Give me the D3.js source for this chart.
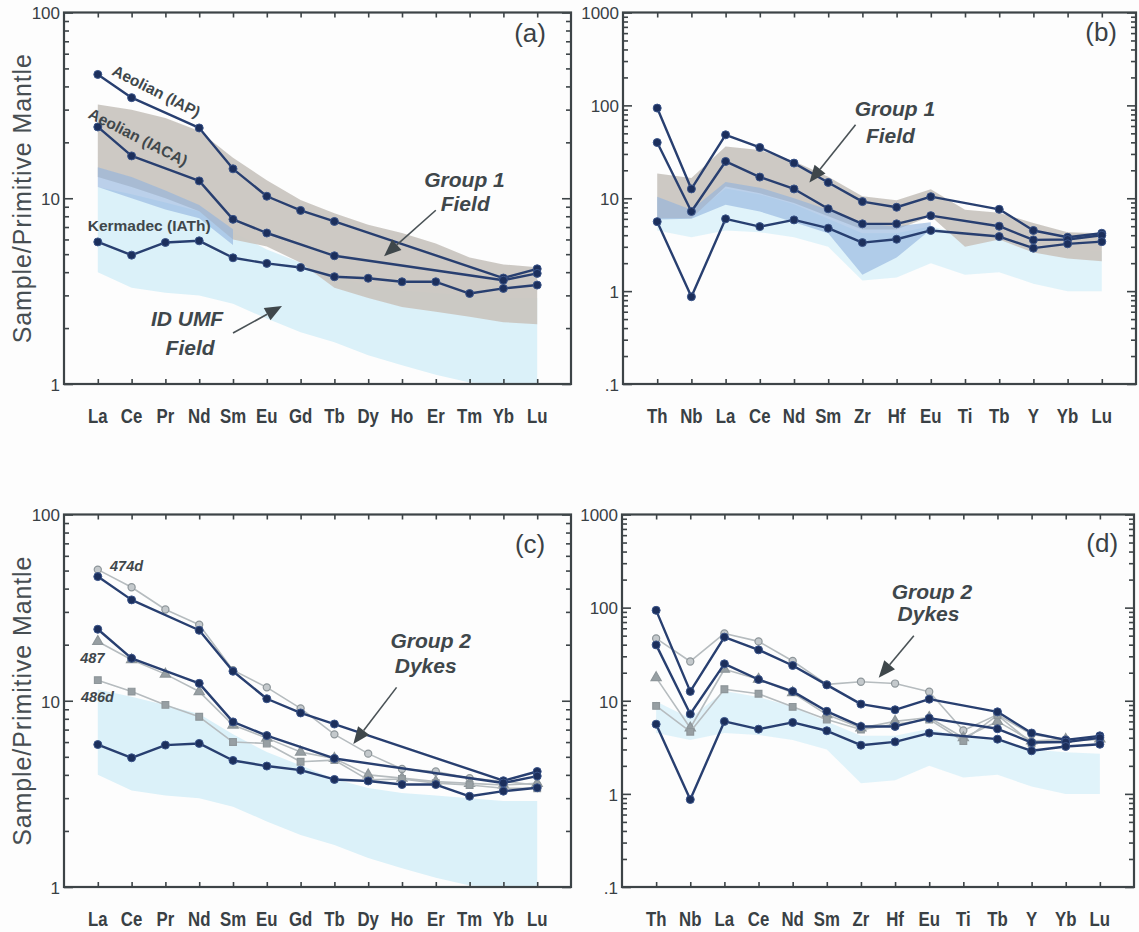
<!DOCTYPE html>
<html>
<head>
<meta charset="utf-8">
<script src="https://cdn.jsdelivr.net/npm/d3@7"></script>
<style>
  body { margin: 0; background: #fdfdfd; }
  svg { display: block; font-family: Arial, "Liberation Sans", sans-serif; }
</style>
</head>
<body>
<svg id="chart" width="1139" height="932"></svg>
<script>
// element order on the x axis
var reeLabels = ["La", "Ce", "Pr", "Nd", "Sm", "Eu", "Gd", "Tb", "Dy", "Ho", "Er", "Tm", "Yb", "Lu"];
var spiderLabels = ["Th", "Nb", "La", "Ce", "Nd", "Sm", "Zr", "Hf", "Eu", "Ti", "Tb", "Y", "Yb", "Lu"];

// reference arcs, REE (panels a, c); null = element not plotted
var reeIAP  = [46.4, 34.8, null, 23.9, 14.4, 10.25, 8.6, 7.5, null, null, null, null, 3.72, 4.17];
var reeIACA = [24.2, 16.9, null, 12.4, 7.7, 6.5, null, 4.9, null, null, null, null, 3.62, 3.94];
var reeIATh = [5.82, 4.94, 5.78, 5.9, 4.78, 4.46, 4.24, 3.78, 3.71, 3.55, 3.55, 3.07, 3.27, 3.41];

// Group 2 dykes, REE (panel c)
var ree474d = [50.6, 40.7, 30.9, 25.6, 14.6, 11.8, 9.1, 6.6, 5.2, 4.3, 4.17, 3.84, 3.68, 3.53];
var ree487  = [20.8, 16.6, 13.9, 11.2, 7.4, 6.3, 5.3, 4.9, 4.0, 3.84, 3.68, 3.6, 3.53, 3.6];
var ree486d = [12.9, 11.2, 9.5, 8.2, 6.0, 5.9, 4.7, 4.8, 3.76, 3.8, 3.61, 3.53, 3.39, 3.39];

// reference arcs, multi-element (panels b, d)
var spIAP  = [93.5, 12.6, 48.2, 35.2, 23.9, 14.8, 9.2, 8.0, 10.4, null, 7.6, 4.5, 3.8, 4.2];
var spIACA = [39.8, 7.2, 24.9, 16.9, 12.6, 7.7, 5.3, 5.3, 6.5, null, 5.0, 3.56, 3.6, 4.0];
var spIATh = [5.6, 0.87, 6.0, 4.95, 5.85, 4.76, 3.33, 3.62, 4.5, null, 3.87, 2.9, 3.23, 3.41];

// Group 2 dykes, multi-element (panel d)
var sp474d = [46.7, 26.4, 52.8, 43.4, 26.7, 15.0, 16.0, 15.3, 12.5, 4.8, 7.1, 4.35, 3.85, 3.95];
var sp487  = [17.7, 5.1, 21.8, 17.0, 12.2, 7.1, 5.1, 6.0, 6.6, 4.0, 6.0, 3.7, 3.85, 3.9];
var sp486d = [8.8, 4.65, 13.3, 11.9, 8.6, 6.3, 4.9, 5.6, 6.3, 3.7, 7.0, 3.5, 3.7, 3.85];

// fields (upper / lower envelopes)
var reeGroup1Upper = [32, 30, 27, 23, 16.5, 12.5, 9.8, 8.3, 7.2, 6.5, 5.7, 4.8, 4.4, 4.25];
var reeGroup1Lower = [13, 11.5, 10, 8.5, 6.0, 5.5, 4.5, 3.3, 2.9, 2.6, 2.45, 2.3, 2.15, 2.1];
var reeUmfUpper = [11.5, 10.5, 9.5, 8.5, 6.6, 5.3, 4.5, 3.8, 3.4, 3.2, 3.1, 3.0, 2.9, 2.9];
var reeUmfLower = [4.0, 3.3, 3.1, 3.0, 2.7, 2.25, 1.9, 1.68, 1.43, 1.26, 1.12, 1.02, 1.0, 1.0];
var reeUmfDarkUpper = [14.7, 13, 11, 9.2, 6.8, null, null, null, null, null, null, null, null, null];
var reeUmfDarkLower = [11.5, 10, 8.7, 7.8, 5.6, null, null, null, null, null, null, null, null, null];

var spGroup1Upper = [18.5, 16.5, 36, 33, 25, 17, 10.5, 9.5, 12.5, 7.5, 7.0, 5.4, 4.3, 4.2];
var spGroup1Lower = [6.1, 6.1, 13.4, 11.3, 8.9, 6.4, 4.6, 4.6, 6.4, 3.0, 3.6, 2.6, 2.25, 2.1];
var spUmfUpper = [9.8, 6.5, 12.7, 11, 8.6, 6.0, 4.2, 4.2, 5.0, 4.0, 3.8, 3.0, 2.8, 2.7];
var spUmfLower = [4.5, 3.8, 4.5, 4.3, 3.8, 3.0, 1.3, 1.4, 2.0, 1.5, 1.6, 1.2, 1.0, 1.0];
var spUmfDarkUpper = [10.4, 7.5, 15, 13, 10, 7.5, 5.3, 5.0, 5.5, null, null, null, null, null];
var spUmfDarkLower = [5.9, 6.0, 8.5, 7.2, 5.5, 4.2, 1.5, 2.3, 4.6, null, null, null, null, null];

var reeTickLabels = ["1", "10", "100"];
var spTickLabels = [".1", "1", "10", "100", "1000"];

var colors = {
  frame: "#3d4447", text: "#394044", dark: "#283f70", darkFill: "#1c2f5c",
  gray: "#b6bcbf", grayMark: "#8e969a",
  group1: "#cac6c1", umf: "#dbf1f9", umfDark: "#8fb3de"
};

var svg = d3.select("#chart");
svg.append("rect").attr("width", 1139).attr("height", 932).attr("fill", "#fdfdfd");

var darkRef = function(a, b, c) {
  return [{ values: a, dark: true }, { values: b, dark: true }, { values: c, dark: true }];
};

var panels = [
  { id: "a", left: 64, right: 571, top: 12.5, bottom: 384, labels: reeLabels, domain: [1, 100],
    tickLabels: reeTickLabels, ylabel: true,
    fields: [
      { upper: reeUmfUpper, lower: reeUmfLower, color: colors.umf, opacity: 1 },
      { upper: reeGroup1Upper, lower: reeGroup1Lower, color: colors.group1, opacity: 0.95 },
      { upper: reeUmfDarkUpper, lower: reeUmfDarkLower, color: colors.umfDark, opacity: 0.6 }
    ],
    series: darkRef(reeIAP, reeIACA, reeIATh),
    notes: [
      { t: "(a)", i: 12.79, v: 69.8, size: 26 },
      { t: "Aeolian (IAP)", i: 1.66, v: 35.5, size: 15.5, bold: true, rot: 27 },
      { t: "Aeolian (IACA)", i: 1.12, v: 20.1, size: 15.5, bold: true, rot: 27 },
      { t: "Kermadec (IATh)", i: 1.52, v: 6.65, size: 15.5, bold: true },
      { t: "Group 1", i: 10.85, v: 11.46, size: 21, bold: true, italic: true },
      { t: "Field", i: 10.87, v: 8.51, size: 21, bold: true, italic: true },
      { t: "ID UMF", i: 2.64, v: 2.05, size: 21, bold: true, italic: true },
      { t: "Field", i: 2.73, v: 1.43, size: 21, bold: true, italic: true }
    ],
    arrows: [
      { from: [10.0, 8.62], to: [8.47, 4.88] },
      { from: [4.0, 1.88], to: [5.45, 2.63] }
    ] },
  { id: "b", left: 623, right: 1136, top: 12.5, bottom: 384, labels: spiderLabels, domain: [0.1, 1000],
    tickLabels: spTickLabels, ylabel: false,
    fields: [
      { upper: spUmfUpper, lower: spUmfLower, color: colors.umf, opacity: 0.85 },
      { upper: spGroup1Upper, lower: spGroup1Lower, color: colors.group1, opacity: 0.95 },
      { upper: spUmfDarkUpper, lower: spUmfDarkLower, color: colors.umfDark, opacity: 0.6 }
    ],
    series: darkRef(spIAP, spIACA, spIATh),
    notes: [
      { t: "(b)", i: 12.98, v: 497, size: 26 },
      { t: "Group 1", i: 6.95, v: 77.3, size: 21, bold: true, italic: true },
      { t: "Field", i: 6.82, v: 39.5, size: 21, bold: true, italic: true }
    ],
    arrows: [{ from: [5.80, 61.8], to: [4.45, 14.8] }] },
  { id: "c", left: 64, right: 571, top: 514.5, bottom: 887, labels: reeLabels, domain: [1, 100],
    tickLabels: reeTickLabels, ylabel: true,
    fields: [{ upper: reeUmfUpper, lower: reeUmfLower, color: colors.umf, opacity: 1 }],
    series: [
      { values: ree474d, shape: d3.symbolCircle },
      { values: ree487, shape: d3.symbolTriangle },
      { values: ree486d, shape: d3.symbolSquare }
    ].concat(darkRef(reeIAP, reeIACA, reeIATh)),
    notes: [
      { t: "(c)", i: 12.79, v: 62.5, size: 26 },
      { t: "474d", i: 0.85, v: 50, size: 14.5, bold: true, italic: true },
      { t: "487", i: -0.16, v: 16.0, size: 14.5, bold: true, italic: true },
      { t: "486d", i: -0.01, v: 9.9, size: 14.5, bold: true, italic: true },
      { t: "Group 2", i: 9.85, v: 19.3, size: 21, bold: true, italic: true },
      { t: "Dykes", i: 9.70, v: 14.1, size: 21, bold: true, italic: true }
    ],
    arrows: [{ from: [8.84, 11.8], to: [7.56, 5.85] }] },
  { id: "d", left: 622, right: 1134, top: 514.5, bottom: 887, labels: spiderLabels, domain: [0.1, 1000],
    tickLabels: spTickLabels, ylabel: false,
    fields: [{ upper: spUmfUpper, lower: spUmfLower, color: colors.umf, opacity: 0.85 }],
    series: [
      { values: sp474d, shape: d3.symbolCircle },
      { values: sp487, shape: d3.symbolTriangle },
      { values: sp486d, shape: d3.symbolSquare }
    ].concat(darkRef(spIAP, spIACA, spIATh)),
    notes: [
      { t: "(d)", i: 13.07, v: 397, size: 26 },
      { t: "Group 2", i: 8.08, v: 123.8, size: 21, bold: true, italic: true },
      { t: "Dykes", i: 7.98, v: 72.3, size: 21, bold: true, italic: true }
    ],
    arrows: [{ from: [7.55, 49.8], to: [6.52, 17.7] }] }
];

function points(values) {
  return values.map(function(v, i) { return { i: i, v: v }; })
    .filter(function(d) { return d.v != null; });
}

function drawPanel(p) {
  var g = svg.append("g").attr("class", "panel-" + p.id);
  var x = d3.scaleLinear().domain([-1, 14]).range([p.left, p.right]);
  var y = d3.scaleLog().domain(p.domain).range([p.bottom, p.top]);

  var clipId = "clip-" + p.id;
  g.append("clipPath").attr("id", clipId).append("rect")
    .attr("x", p.left).attr("y", p.top)
    .attr("width", p.right - p.left).attr("height", p.bottom - p.top);
  var plot = g.append("g").attr("clip-path", "url(#" + clipId + ")");

  // fields
  p.fields.forEach(function(f) {
    var pts = f.upper.map(function(u, i) { return { i: i, u: u, l: f.lower[i] }; })
      .filter(function(d) { return d.u != null; });
    plot.append("path").datum(pts)
      .attr("d", d3.area().x(function(d) { return x(d.i); })
        .y0(function(d) { return y(d.l); }).y1(function(d) { return y(d.u); }))
      .attr("fill", f.color).attr("opacity", f.opacity);
  });

  // series
  var line = d3.line().x(function(d) { return x(d.i); }).y(function(d) { return y(d.v); });
  p.series.forEach(function(s) {
    var pts = points(s.values);
    plot.append("path").datum(pts).attr("d", line).attr("fill", "none")
      .attr("stroke", s.dark ? colors.dark : colors.gray)
      .attr("stroke-width", s.dark ? 2.4 : 1.6)
      .attr("stroke-linejoin", "round");
    if (s.dark) {
      plot.selectAll(null).data(pts).enter().append("circle")
        .attr("cx", function(d) { return x(d.i); }).attr("cy", function(d) { return y(d.v); })
        .attr("r", 4).attr("fill", colors.darkFill).attr("stroke", "#3a5489").attr("stroke-width", 1);
    } else {
      plot.selectAll(null).data(pts).enter().append("path")
        .attr("d", d3.symbol().type(s.shape).size(s.shape === d3.symbolCircle ? 40 : 45))
        .attr("transform", function(d) { return "translate(" + x(d.i) + "," + y(d.v) + ")"; })
        .attr("fill", s.shape === d3.symbolCircle ? "#c4c9cc" : "#979fa3")
        .attr("stroke", colors.grayMark).attr("stroke-width", 1.2);
    }
  });

  // ticks
  var idx = d3.range(14);
  g.append("g").attr("transform", "translate(0," + p.bottom + ")")
    .call(d3.axisBottom(x).tickValues(idx).tickSize(-5).tickFormat(""));
  g.append("g").attr("transform", "translate(0," + p.top + ")")
    .call(d3.axisTop(x).tickValues(idx).tickSize(-5).tickFormat(""));

  var lo = Math.log10(p.domain[0]), hi = Math.log10(p.domain[1]);
  var majors = d3.range(lo, hi + 1).map(function(e) { return Math.pow(10, e); });
  var minors = [];
  d3.range(lo, hi).forEach(function(e) {
    d3.range(2, 10).forEach(function(k) { minors.push(k * Math.pow(10, e)); });
  });
  [[d3.axisLeft, p.left], [d3.axisRight, p.right]].forEach(function(a) {
    g.append("g").attr("transform", "translate(" + a[1] + ",0)")
      .call(a[0](y).tickValues(minors).tickSize(-5).tickFormat(""));
    g.append("g").attr("transform", "translate(" + a[1] + ",0)")
      .call(a[0](y).tickValues(majors).tickSize(-9).tickFormat(""));
  });
  g.selectAll(".domain").remove();
  g.selectAll(".tick line").attr("stroke", colors.frame).attr("stroke-width", 1.6);

  // frame
  g.append("rect").attr("x", p.left).attr("y", p.top)
    .attr("width", p.right - p.left).attr("height", p.bottom - p.top)
    .attr("fill", "none").attr("stroke", colors.frame).attr("stroke-width", 2.2);

  // x labels
  g.selectAll(null).data(p.labels).enter().append("text")
    .attr("transform", function(d, i) { return "translate(" + x(i) + "," + (p.bottom + 39) + ") scale(0.8,1)"; })
    .attr("text-anchor", "middle").attr("font-size", 21).attr("font-weight", "bold")
    .attr("fill", colors.text).text(function(d) { return d; });

  // y labels
  g.selectAll(null).data(majors).enter().append("text")
    .attr("x", p.left - 4).attr("y", function(d) { return y(d); }).attr("dy", "0.4em")
    .attr("text-anchor", "end").attr("font-size", 17).attr("fill", colors.text)
    .text(function(d, i) { return p.tickLabels[i]; });

  if (p.ylabel) {
    g.append("text")
      .attr("transform", "translate(31," + ((p.top + p.bottom) / 2) + ") rotate(-90)")
      .attr("text-anchor", "middle").attr("font-size", 25).attr("letter-spacing", 0.9)
      .attr("fill", "#474e52").text("Sample/Primitive Mantle");
  }

  // annotations
  p.notes.forEach(function(n) {
    var t = "translate(" + x(n.i) + "," + y(n.v) + ")" + (n.rot ? " rotate(" + n.rot + ")" : "");
    g.append("text").attr("transform", t).attr("text-anchor", "middle")
      .attr("font-size", n.size).attr("font-weight", n.bold ? "bold" : "normal")
      .attr("font-style", n.italic ? "italic" : "normal")
      .attr("fill", n.bold ? "#3f474b" : "#3a4145").text(n.t);
  });

  p.arrows.forEach(function(a) {
    var x1 = x(a.from[0]), y1 = y(a.from[1]), x2 = x(a.to[0]), y2 = y(a.to[1]);
    var ang = Math.atan2(y2 - y1, x2 - x1), len = 17, hw = 7;
    var bx = x2 - len * Math.cos(ang), by = y2 - len * Math.sin(ang);
    g.append("line").attr("x1", x1).attr("y1", y1).attr("x2", bx).attr("y2", by)
      .attr("stroke", "#4a5256").attr("stroke-width", 1.6);
    g.append("path")
      .attr("d", "M" + x2 + "," + y2 +
        "L" + (bx + hw * Math.sin(ang)) + "," + (by - hw * Math.cos(ang)) +
        "L" + (bx - hw * Math.sin(ang)) + "," + (by + hw * Math.cos(ang)) + "Z")
      .attr("fill", "#3f474b");
  });
}

panels.forEach(drawPanel);
</script>
</body>
</html>
